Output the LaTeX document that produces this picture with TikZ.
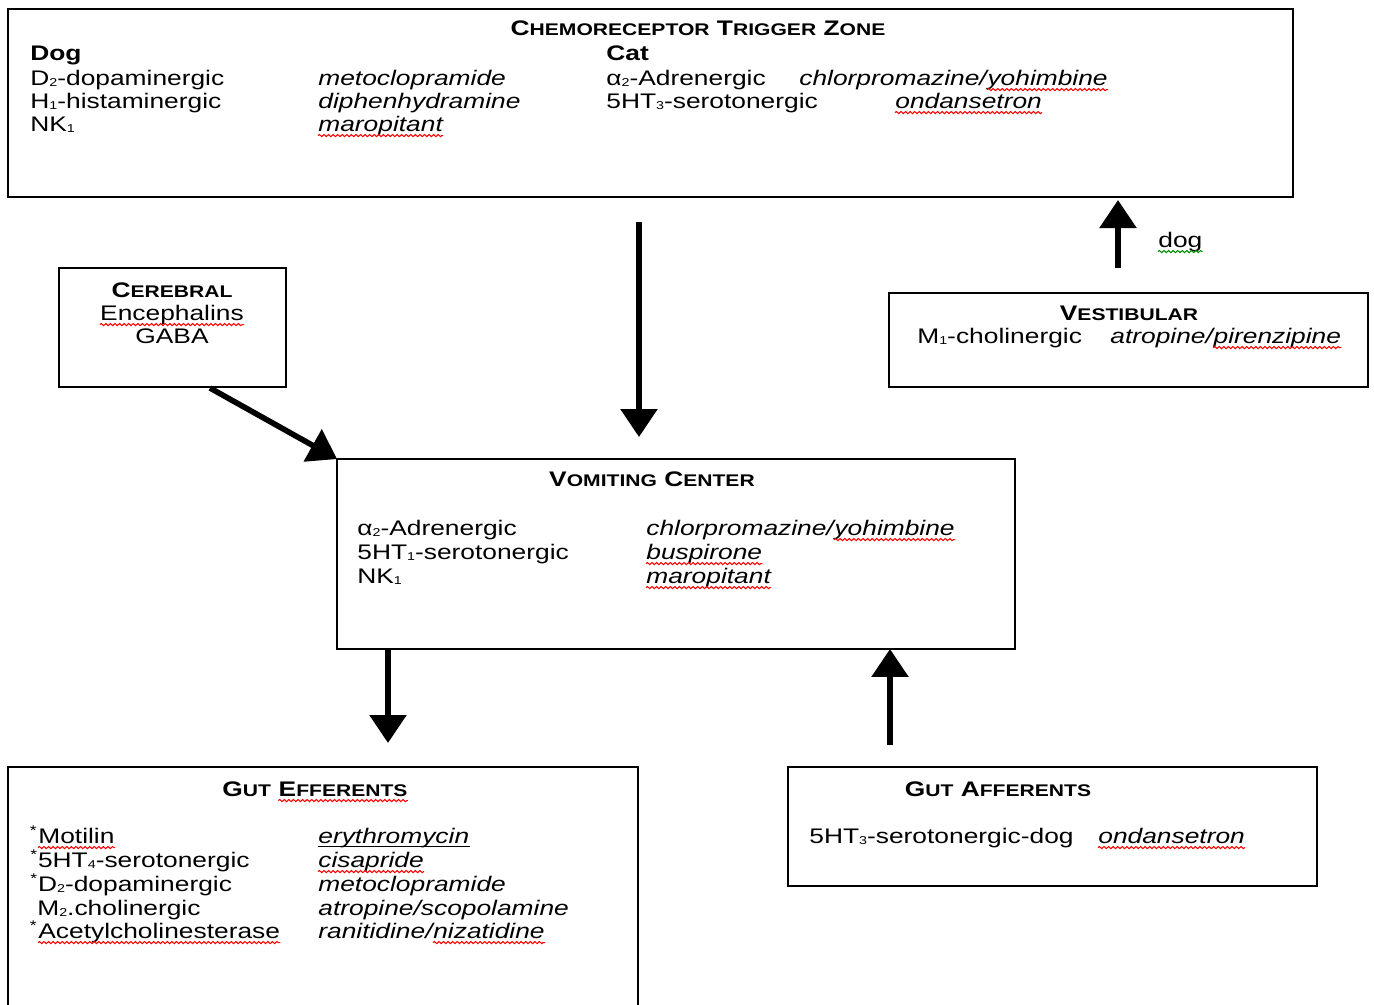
\documentclass[tikz,border=0pt]{standalone}
\usepackage{fontspec}
\setmainfont{Liberation Sans}[FakeStretch=1.25]
\usetikzlibrary{arrows.meta,positioning,decorations.pathmorphing}
\newcommand{\fsc}[2]{#1{\fontsize{9.6}{11}\selectfont#2}}
\newcommand{\sbs}[1]{\raisebox{-0.15ex}{\fontsize{6.5}{7}\selectfont#1}}

\begin{document}
\begin{tikzpicture}[x=0.02cm,y=-0.02cm,
%defines
box/.style={draw,line width=1.1pt,inner sep=0pt,outer sep=0pt},
ttl/.style={anchor=base,inner sep=0pt,font=\fontsize{12}{14}\selectfont\bfseries},
txt/.style={anchor=base west,inner sep=0pt,font=\fontsize{12}{14}\selectfont},
hdr/.style={txt,font=\fontsize{12}{14}\selectfont\bfseries},
drug/.style={txt,font=\fontsize{12}{14}\selectfont\itshape},
wave/.style={decorate,decoration={snake,amplitude=0.6pt,segment length=2.6pt},line width=0.6pt},
spell/.style={append after command={([yshift=-2.6pt]\tikzlastnode.base west) edge[wave,red] ([yshift=-2.6pt]\tikzlastnode.base east)}},
gram/.style={append after command={([yshift=-2.6pt]\tikzlastnode.base west) edge[wave,green!55!black] ([yshift=-2.6pt]\tikzlastnode.base east)}},
uline/.style={append after command={([yshift=-2.2pt]\tikzlastnode.base west) edge[line width=0.6pt] ([yshift=-2.2pt]\tikzlastnode.base east)}},
arr/.style={line width=3.2pt,-{Triangle[length=0.56cm,width=0.72cm]}},
node distance=0pt]
\useasboundingbox (0,0) rectangle (1374,1005);
%boxes
\node[box,minimum width=25.7cm,minimum height=3.76cm]  (ctz)   at (650.5,103)  {};
\node[box,minimum width=4.54cm,minimum height=2.38cm]  (cereb) at (172.5,327.5) {};
\node[box,minimum width=9.58cm,minimum height=1.88cm]  (vest)  at (1128.5,340) {};
\node[box,minimum width=13.56cm,minimum height=3.8cm]  (vc)    at (676,554)    {};
\node[box,minimum width=12.6cm,minimum height=4.92cm]  (geff)  at (323,890)    {};
\node[box,minimum width=10.58cm,minimum height=2.38cm] (gaff)  at (1052.5,826.5) {};
%chemoreceptor trigger zone
\node[ttl]  (ctztitle) at (698,35)  {\fsc{C}{HEMORECEPTOR} \fsc{T}{RIGGER} \fsc{Z}{ONE}};
\node[hdr]  (dog)      at (30,60)   {Dog};
\node[hdr]  (cat)      at (606,60)  {Cat};
\node[txt]  (dogr1)    at (30,85)   {D\sbs{2}-dopaminergic};
\node[txt]  (dogr2)    at (30,108)  {H\sbs{1}-histaminergic};
\node[txt]  (dogr3)    at (30,131)  {NK\sbs{1}};
\node[drug] (dogd1)    at (318,85)  {metoclopramide};
\node[drug] (dogd2)    at (318,108) {diphenhydramine};
\node[drug,spell] (dogd3) at (318,131) {maropitant};
\node[txt]  (catr1)    at (606,85)  {α\sbs{2}-Adrenergic};
\node[txt]  (catr2)    at (606,108) {5HT\sbs{3}-serotonergic};
\node[drug] (catd1)    at (799,85)  {chlorpromazine/};
\node[drug,spell] (catd1b) [base right=of catd1] {yohimbine};
\node[drug,spell] (catd2)  at (895,108) {ondansetron};
%cerebral
\node[ttl]  (cerebtitle) at (172,297) {\fsc{C}{EREBRAL}};
\node[txt,spell,anchor=base] (cerebr1) at (172,320) {Encephalins};
\node[txt,anchor=base] (cerebr2) at (172,343) {GABA};
%vestibular
\node[ttl]  (vesttitle) at (1129,320) {\fsc{V}{ESTIBULAR}};
\node[txt]  (vestr1)    at (917,343)  {M\sbs{1}-cholinergic};
\node[drug] (vestd1)    at (1110,343) {atropine/};
\node[drug,spell] (vestd1b) [base right=of vestd1] {pirenzipine};
\node[txt,gram] (doglabel) at (1158,247) {dog};
%vomiting center
\node[ttl]  (vctitle) at (652,486) {\fsc{V}{OMITING} \fsc{C}{ENTER}};
\node[txt]  (vcr1)    at (357,535) {α\sbs{2}-Adrenergic};
\node[txt]  (vcr2)    at (357,559) {5HT\sbs{1}-serotonergic};
\node[txt]  (vcr3)    at (357,583) {NK\sbs{1}};
\node[drug] (vcd1)    at (646,535) {chlorpromazine/};
\node[drug,spell] (vcd1b) [base right=of vcd1] {yohimbine};
\node[drug,spell] (vcd2)  at (646,559) {buspirone};
\node[drug,spell] (vcd3)  at (646,583) {maropitant};
%gut efferents
\node[ttl,anchor=base west] (gefftitle) at (222,796) {\fsc{G}{UT}};
\node[ttl,anchor=base west,spell] (gefftitleb) [base right=4pt of gefftitle] {\fsc{E}{FFERENTS}};
\node[txt,anchor=base east] (star1) at (38,843) {\textsuperscript{*}};
\node[txt,spell] (geffr1) [base right=of star1] {Motilin};
\node[txt]  (geffr2)    at (30,867)  {\textsuperscript{*}5HT\sbs{4}-serotonergic};
\node[txt]  (geffr3)    at (30,891)  {\textsuperscript{*}D\sbs{2}-dopaminergic};
\node[txt]  (geffr4)    at (37,915)  {M\sbs{2}.cholinergic};
\node[txt,anchor=base east] (star5) at (38,938) {\textsuperscript{*}};
\node[txt,spell] (geffr5) [base right=of star5] {Acetylcholinesterase};
\node[drug,uline] (geffd1) at (318,843) {erythromycin};
\node[drug,spell] (geffd2) at (318,867) {cisapride};
\node[drug] (geffd3)    at (318,891) {metoclopramide};
\node[drug] (geffd4)    at (318,915) {atropine/scopolamine};
\node[drug] (geffd5)    at (318,938) {ranitidine/};
\node[drug,spell] (geffd5b) [base right=of geffd5] {nizatidine};
%gut afferents
\node[ttl]  (gafftitle) at (998,796)  {\fsc{G}{UT} \fsc{A}{FFERENTS}};
\node[txt]  (gaffr1)    at (809,843)  {5HT\sbs{3}-serotonergic-dog};
\node[drug,spell] (gaffd1) at (1098,843) {ondansetron};
%arrow ends
\coordinate (ctzout) at (639,222);
\coordinate (vcin)   at (639,437);
\coordinate (cerebout) at (210,388);
\coordinate (vestout) at (1118,268);
\coordinate (ctzin)  at (1118,200);
\coordinate (geffin) at (388,743);
\coordinate (gaffout) at (890,745);
%links
\draw[arr] (ctzout) -- (vcin);
\draw[arr] (cerebout) -- (vc.north west);
\draw[arr] (vestout) -- (ctzin);
\draw[arr] (vc.south -| geffin) -- (geffin);
\draw[arr] (gaffout) -- (vc.south -| gaffout);
\end{tikzpicture}
\end{document}
